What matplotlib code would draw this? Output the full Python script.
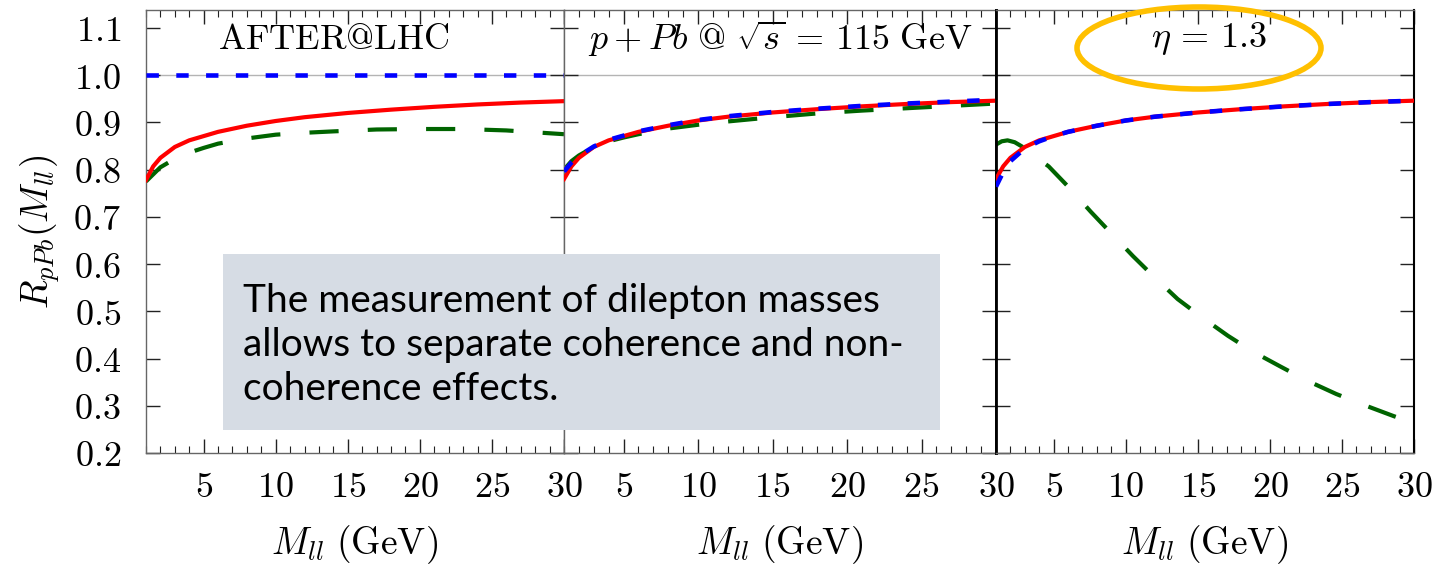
import matplotlib

matplotlib.use("Agg")
import matplotlib.pyplot as plt
from matplotlib.patches import Ellipse, Rectangle
from matplotlib.ticker import FixedLocator, MultipleLocator

plt.rcParams["mathtext.fontset"] = "cm"

# ---- data -----------------------------------------------------------------
m_red = [1, 1.5, 2, 3, 4, 5, 6, 8, 10, 12, 15, 18, 21, 24, 27, 30]
red_after = [0.778, 0.807, 0.825, 0.848, 0.862, 0.871, 0.880, 0.893, 0.903,
             0.911, 0.920, 0.927, 0.933, 0.938, 0.942, 0.945]
red_ppb = [0.780, 0.807, 0.825, 0.848, 0.862, 0.871, 0.880, 0.893, 0.904,
           0.912, 0.921, 0.928, 0.934, 0.939, 0.943, 0.946]
red_eta = [0.780, 0.807, 0.825, 0.848, 0.862, 0.871, 0.880, 0.893, 0.904,
           0.912, 0.921, 0.928, 0.934, 0.939, 0.943, 0.946]

m_blue_flat = [1, 30]
blue_after = [1.0, 1.0]
m_blue = [1, 1.5, 2, 3, 4, 5, 6, 8, 10, 12, 15, 18, 21, 24, 27, 30]
blue_ppb = [0.796, 0.815, 0.829, 0.849, 0.863, 0.872, 0.881, 0.894, 0.905,
            0.913, 0.922, 0.929, 0.935, 0.940, 0.944, 0.948]
blue_eta = [0.764, 0.795, 0.818, 0.845, 0.860, 0.871, 0.880, 0.893, 0.904,
            0.912, 0.921, 0.928, 0.934, 0.939, 0.943, 0.946]

m_green_after = [1, 1.5, 2, 3, 4, 5, 6, 8, 10, 12, 14, 17, 20, 23, 26, 28, 30]
green_after = [0.775, 0.790, 0.805, 0.823, 0.836, 0.846, 0.855, 0.866, 0.874,
               0.878, 0.881, 0.885, 0.886, 0.886, 0.883, 0.879, 0.875]
m_green_ppb = [1, 1.5, 2, 3, 4, 5, 6, 8, 10, 12, 15, 18, 21, 24, 27, 30]
green_ppb = [0.800, 0.818, 0.830, 0.848, 0.860, 0.868, 0.875, 0.887, 0.895,
             0.902, 0.911, 0.919, 0.925, 0.930, 0.935, 0.940]
m_green_eta = [1, 1.4, 1.8, 2.3, 2.8, 3.5, 4.65, 6.1, 7.57, 9, 10.5, 12, 13.6,
               15.3, 17.1, 18.8, 20.8, 22.6, 24.6, 26.5, 28.6, 30]
green_eta = [0.853, 0.860, 0.862, 0.858, 0.849, 0.832, 0.807, 0.761, 0.711,
             0.665, 0.617, 0.572, 0.526, 0.487, 0.448, 0.415, 0.382, 0.353,
             0.325, 0.302, 0.278, 0.263]

x_ticks = [5, 10, 15, 20, 25, 30]
x_tick_labels = ["$5$", "$10$", "$15$", "$20$", "$25$", "$30$"]
y_ticks = [0.2, 0.3, 0.4, 0.5, 0.6, 0.7, 0.8, 0.9, 1.0, 1.1]
y_tick_labels = ["$%.1f$" % v for v in y_ticks]

titles = [r"$\mathrm{AFTER@LHC}$",
          r"$p+Pb\ \mathrm{@}\ \sqrt{s}\,=\,115\ \mathrm{GeV}$",
          r"$\eta\,=\,1.3$"]
title_x = [0.45, 0.5, 0.51]

RED = "#ff0000"
BLUE = "#0000ff"
GREEN = "#006400"

FS = 26

# ---- figure ----------------------------------------------------------------
W, H = 1435, 568
fig = plt.figure(figsize=(W / 100, H / 100), dpi=100)

bottom = (H - 453) / H
height = (453 - 10) / H
lefts = [146, 564, 996]
widths = [418, 432, 418]
axes = [fig.add_axes([l / W, bottom, w / W, height]) for l, w in zip(lefts, widths)]

panels = [
    ((m_red, red_after), (m_blue_flat, blue_after), (m_green_after, green_after)),
    ((m_red, red_ppb), (m_blue, blue_ppb), (m_green_ppb, green_ppb)),
    ((m_red, red_eta), (m_blue, blue_eta), (m_green_eta, green_eta)),
]

for i, (ax, (red, blue, green)) in enumerate(zip(axes, panels)):
    ax.axhline(1.0, color="#b4b4b4", lw=1.0, zorder=1)
    ax.plot(*green, color=GREEN, lw=3.0, dashes=(7, 7), zorder=2,
            solid_capstyle="butt", dash_capstyle="butt")
    ax.plot(*red, color=RED, lw=3.0, zorder=3)
    ax.plot(*blue, color=BLUE, lw=3.3, dashes=(2.7, 3.8), zorder=4,
            dash_capstyle="butt")

    ax.set_xlim(1, 30)
    ax.set_ylim(0.2, 1.138)
    ax.xaxis.set_major_locator(FixedLocator(x_ticks))
    ax.set_xticklabels(x_tick_labels)
    ax.xaxis.set_minor_locator(MultipleLocator(1))
    ax.yaxis.set_major_locator(FixedLocator(y_ticks))
    if i == 0:
        ax.set_yticklabels(y_tick_labels)
    else:
        ax.set_yticklabels([])
    ax.tick_params(axis="both", which="both", direction="in",
                   top=True, right=True, colors="#222222")
    ax.tick_params(axis="both", which="major", length=10, width=1.0,
                   labelsize=FS, labelcolor="black")
    ax.tick_params(axis="x", which="major", pad=12)
    ax.tick_params(axis="y", which="major", pad=18)
    ax.tick_params(axis="x", which="minor", length=5, width=0.8)

    for side in ["top", "bottom", "left", "right"]:
        ax.spines[side].set_color("#666666")
        ax.spines[side].set_linewidth(1.0)

    ax.set_xlabel(r"$M_{ll}\ \mathrm{(GeV)}$", fontsize=FS + 1, labelpad=14)
    ax.text(title_x[i], 0.935, titles[i], transform=ax.transAxes,
            ha="center", va="center", fontsize=FS, zorder=6)

axes[0].set_ylabel(r"$R_{pPb}(M_{ll})$", fontsize=FS + 1, labelpad=8)

axes[1].spines["right"].set_color("black")
axes[1].spines["right"].set_linewidth(2.0)
axes[2].spines["left"].set_color("black")
axes[2].spines["left"].set_linewidth(2.0)
axes[2].spines["right"].set_color("black")
axes[2].spines["right"].set_linewidth(1.5)

# highlight ring around the rapidity label
fig.patches.append(Ellipse((1199 / W, 1 - 48 / H), 244 / W, 82 / H,
                           transform=fig.transFigure, fill=False,
                           edgecolor="#ffc000", lw=4.0, zorder=10))

# annotation box
fig.patches.append(Rectangle((223 / W, 1 - 430 / H), (940 - 223) / W, (430 - 254) / H,
                             transform=fig.transFigure, facecolor="#d6dce4",
                             edgecolor="none", zorder=10))
fig.text(243 / W, 1 - 345 / H,
         "The measurement of dilepton masses\n"
         "allows to separate coherence and non-\n"
         "coherence effects.",
         fontsize=28, family="Lato", ha="left", va="center",
         linespacing=1.28, zorder=11)

fig.savefig("out.png", dpi=100)
plt.close(fig)
